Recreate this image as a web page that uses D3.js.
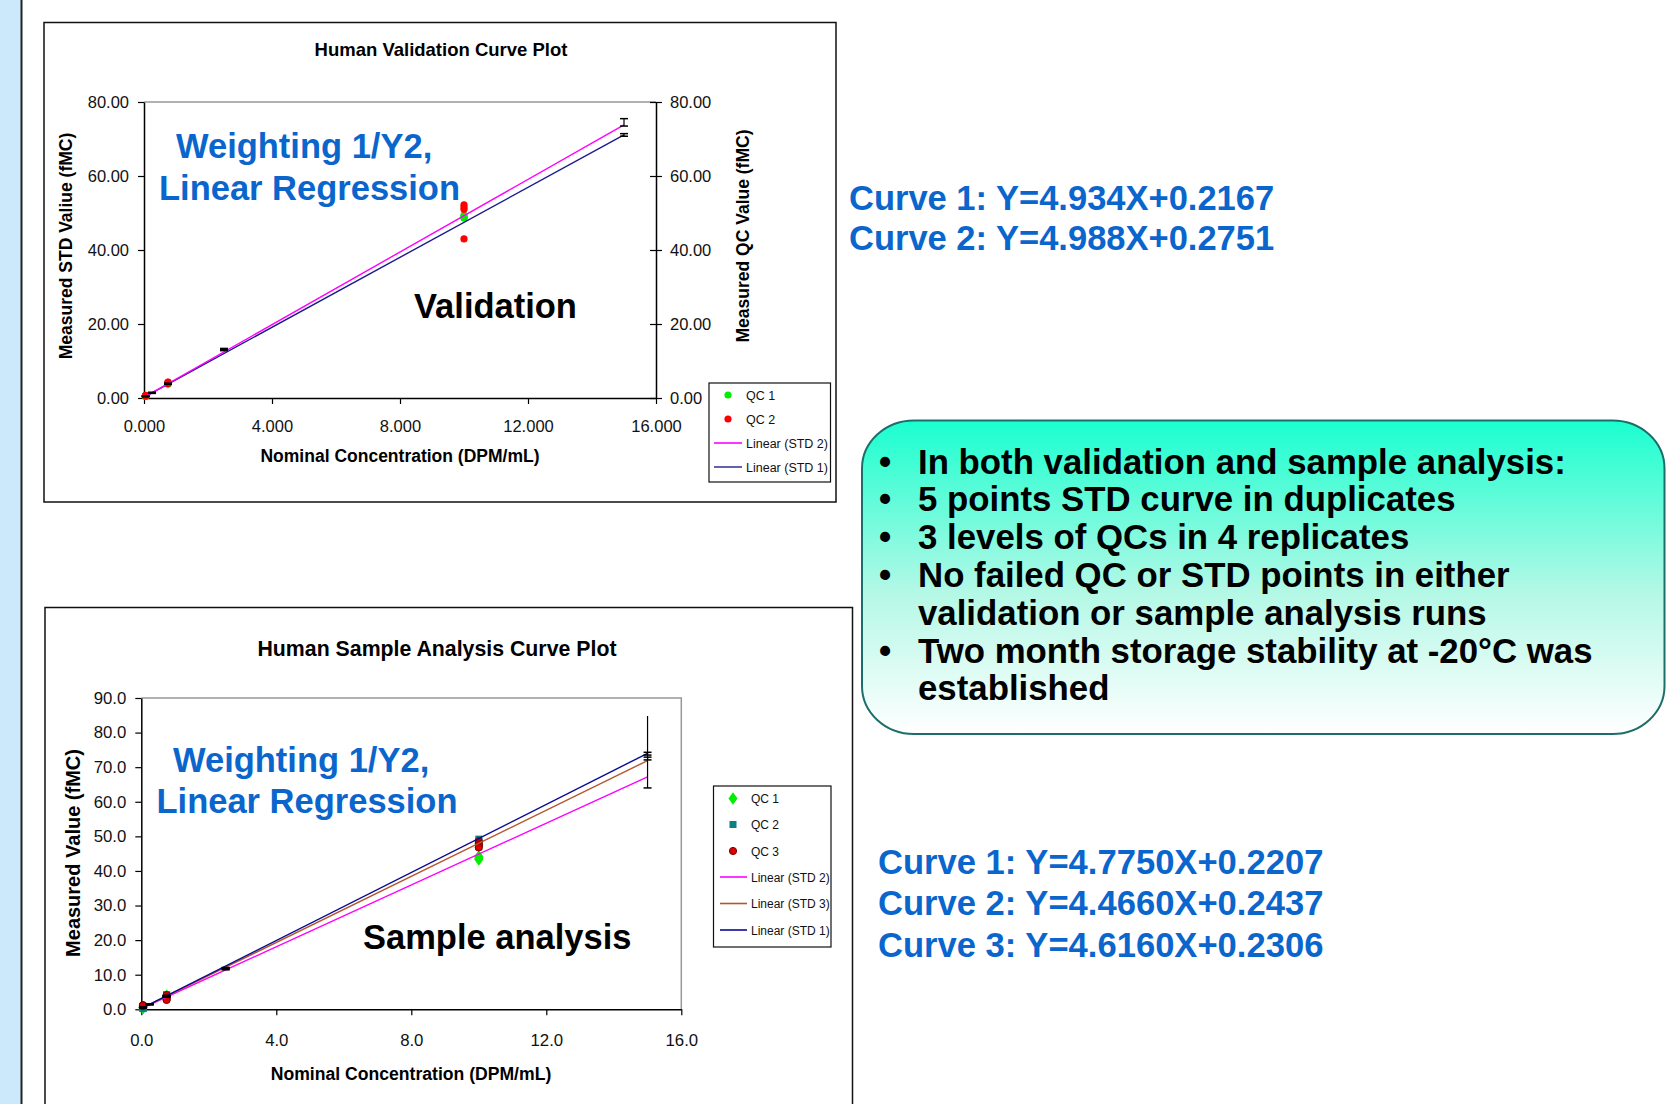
<!DOCTYPE html>
<html><head><meta charset="utf-8">
<script src="https://cdn.jsdelivr.net/npm/d3@7"></script>
<style>
html,body{margin:0;padding:0;background:#fff;}
svg{display:block;font-family:"Liberation Sans",Arial,sans-serif;}
</style></head><body>
<svg id="c" width="1672" height="1104"></svg>
<script>
// ===== Validation chart data =====
const valXTicks = [0, 4, 8, 12, 16];
const valXTickLabels = ["0.000", "4.000", "8.000", "12.000", "16.000"];
const valYTicks = [0, 20, 40, 60, 80];
const valYTickLabels = ["0.00", "20.00", "40.00", "60.00", "80.00"];
const valStdX = [0.05, 0.25, 0.75, 2.5, 15];
const valStd1Y = [0.45, 1.35, 3.8, 13.0, 71.1];
const valStd1Err = [0.1, 0.1, 0.1, 0.2, 0.35];
const valStd2Y = [0.5, 1.45, 3.9, 13.2, 74.5];
const valStd2Err = [0.1, 0.1, 0.1, 0.2, 1.0];
const valQcX = [0.05, 0.05, 0.05, 0.05, 0.75, 0.75, 0.75, 0.75, 10, 10, 10, 10];
const valQc1Y = [0.4, 0.5, 0.55, 0.45, 3.8, 3.9, 4.0, 3.85, 49.0, 48.6, 49.4, 48.8];
const valQc2Y = [0.6, 0.7, 0.55, 0.65, 4.0, 4.3, 3.9, 4.2, 52.2, 51.6, 51.0, 43.0];
const valTrendX = [0.05, 15];
const valTrendStd2 = [0.45, 73.8];
const valTrendStd1 = [0.45, 71.1];
const valLegend = ["QC 1", "QC 2", "Linear (STD 2)", "Linear (STD 1)"];
const valEquations = ["Curve 1: Y=4.934X+0.2167", "Curve 2: Y=4.988X+0.2751"];

// ===== Sample analysis chart data =====
const saXTicks = [0, 4, 8, 12, 16];
const saXTickLabels = ["0.0", "4.0", "8.0", "12.0", "16.0"];
const saYTicks = [0, 10, 20, 30, 40, 50, 60, 70, 80, 90];
const saYTickLabels = ["0.0", "10.0", "20.0", "30.0", "40.0", "50.0", "60.0", "70.0", "80.0", "90.0"];
const saStdX = [0.05, 0.25, 0.75, 2.5, 15];
const saStd1Y = [0.5, 1.5, 3.9, 11.9, 73.9];
const saStd1Err = [0.1, 0.1, 0.1, 0.2, 0.4];
const saStd2Y = [0.5, 1.4, 3.6, 11.6, 74.4];
const saStd2Err = [0.1, 0.1, 0.1, 0.2, 10.4];
const saStd3Y = [0.5, 1.45, 3.8, 11.8, 72.5];
const saStd3Err = [0.1, 0.1, 0.1, 0.2, 0.4];
const saQcX = [0.05, 0.05, 0.05, 0.05, 0.75, 0.75, 0.75, 0.75, 10, 10, 10, 10];
const saQc1Y = [0.5, 0.4, 0.6, 0.5, 3.8, 3.6, 3.9, 3.7, 44.2, 43.6, 43.3, 44.0];
const saQc2Y = [0.3, 0.2, 0.4, 0.3, 4.0, 4.2, 3.8, 4.1, 49.2, 48.5, 47.0, 47.8];
const saQc3Y = [1.2, 0.9, 1.0, 1.1, 4.1, 3.4, 2.9, 2.7, 48.6, 48.0, 47.4, 46.8];
const saTrendX = [0.05, 15];
const saTrendStd2 = [0.45, 67.2];
const saTrendStd3 = [0.45, 71.9];
const saTrendStd1 = [0.45, 74.0];
const saLegend = ["QC 1", "QC 2", "QC 3", "Linear (STD 2)", "Linear (STD 3)", "Linear (STD 1)"];
const saEquations = ["Curve 1: Y=4.7750X+0.2207", "Curve 2: Y=4.4660X+0.2437", "Curve 3: Y=4.6160X+0.2306"];

// ===== Summary box text =====
const bulletLines = [
  {b: true, t: "In both validation and sample analysis:"},
  {b: true, t: "5 points STD curve in duplicates"},
  {b: true, t: "3 levels of QCs in 4 replicates"},
  {b: true, t: "No failed QC or STD points in either"},
  {b: false, t: "validation or sample analysis runs"},
  {b: true, t: "Two month storage stability at -20°C was"},
  {b: false, t: "established"}
];

const svg = d3.select("#c");
const BLUE = "#0a66cc";

// left strip
svg.append("rect").attr("x", 0).attr("y", 0).attr("width", 21).attr("height", 1104).attr("fill", "#cce9fb");
svg.append("line").attr("x1", 21.5).attr("x2", 21.5).attr("y1", 0).attr("y2", 1104).attr("stroke", "#222").attr("stroke-width", 2);

function styleAxis(g, size) {
  g.attr("font-family", null).attr("font-size", null);
  g.selectAll("text").attr("font-size", size).attr("fill", "#111");
  g.selectAll("line").attr("stroke", "#000").attr("stroke-width", 1.2);
  g.select(".domain").attr("stroke", "#000").attr("stroke-width", 1.5);
}

function errorBars(g, x, y, xs, ys, es, topCap) {
  xs.forEach((xv, i) => {
    const cx = x(xv), top = y(ys[i] + es[i]), bot = y(ys[i] - es[i]);
    g.append("line").attr("x1", cx).attr("x2", cx).attr("y1", top).attr("y2", bot).attr("stroke", "#000").attr("stroke-width", 1.2);
    const caps = (topCap === false && es[i] > 5) ? [bot] : [top, bot];
    caps.forEach(yy => g.append("line").attr("x1", cx - 4).attr("x2", cx + 4).attr("y1", yy).attr("y2", yy).attr("stroke", "#000").attr("stroke-width", 1.5));
  });
}

function trend(g, x, y, xs, ys, color) {
  g.append("path").datum(xs.map((d, i) => [d, ys[i]]))
    .attr("d", d3.line().x(d => x(d[0])).y(d => y(d[1])))
    .attr("fill", "none").attr("stroke", color).attr("stroke-width", 1.4);
}

// ================= Chart 1: Validation =================
(function () {
  const g = svg.append("g");
  g.append("rect").attr("x", 44).attr("y", 22.5).attr("width", 792).attr("height", 479.5).attr("fill", "#fff").attr("stroke", "#111").attr("stroke-width", 1.5);
  const x = d3.scaleLinear().domain([0, 16]).range([144, 656]);
  const y = d3.scaleLinear().domain([0, 80]).range([398, 102]);
  g.append("text").attr("x", 441).attr("y", 56).attr("text-anchor", "middle").attr("font-weight", "bold").attr("font-size", 18.5).text("Human Validation Curve Plot");
  g.append("line").attr("x1", x(0)).attr("x2", x(16)).attr("y1", y(80)).attr("y2", y(80)).attr("stroke", "#999").attr("stroke-width", 1.5);
  const ax = g.append("g").attr("transform", `translate(0,${y(0)})`)
    .call(d3.axisBottom(x).tickValues(valXTicks).tickFormat((d, i) => valXTickLabels[i]).tickSizeInner(6).tickSizeOuter(0));
  styleAxis(ax, 16.5);
  ax.selectAll("text").attr("y", 34).attr("dy", 0);
  const ay = g.append("g").attr("transform", `translate(${x(0)},0)`)
    .call(d3.axisLeft(y).tickValues(valYTicks).tickFormat((d, i) => valYTickLabels[i]).tickSizeInner(6).tickSizeOuter(0).tickPadding(9));
  styleAxis(ay, 16.5);
  const ar = g.append("g").attr("transform", `translate(${x(16)},0)`)
    .call(d3.axisRight(y).tickValues(valYTicks).tickFormat((d, i) => valYTickLabels[i]).tickSizeInner(6).tickSizeOuter(0).tickPadding(8));
  styleAxis(ar, 16.5);
  ar.selectAll(".tick").append("line").attr("x1", -6).attr("x2", 0).attr("stroke", "#000").attr("stroke-width", 1.2);
  g.append("text").attr("transform", `translate(72,246) rotate(-90)`).attr("text-anchor", "middle").attr("font-weight", "bold").attr("font-size", 17.5).text("Measured STD Valiue (fMC)");
  g.append("text").attr("transform", `translate(749,236) rotate(-90)`).attr("text-anchor", "middle").attr("font-weight", "bold").attr("font-size", 17.5).text("Measured QC Value (fMC)");
  g.append("text").attr("x", 400).attr("y", 462).attr("text-anchor", "middle").attr("font-weight", "bold").attr("font-size", 17.5).text("Nominal Concentration (DPM/mL)");
  g.append("text").attr("x", 176).attr("y", 158).attr("font-weight", "bold").attr("font-size", 34.5).attr("fill", BLUE).text("Weighting 1/Y2,");
  g.append("text").attr("x", 159).attr("y", 200).attr("font-weight", "bold").attr("font-size", 34.5).attr("fill", BLUE).text("Linear Regression");
  g.append("text").attr("x", 414).attr("y", 318).attr("font-weight", "bold").attr("font-size", 34.5).attr("fill", "#000").text("Validation");
  const pts = g.append("g");
  valQcX.forEach((xv, i) => pts.append("circle").attr("cx", x(xv)).attr("cy", y(valQc1Y[i])).attr("r", 3.6).attr("fill", "#00ee00"));
  valQcX.forEach((xv, i) => pts.append("circle").attr("cx", x(xv)).attr("cy", y(valQc2Y[i])).attr("r", 3.6).attr("fill", "#ff0000"));
  trend(g, x, y, valTrendX, valTrendStd1, "#1a1a8c");
  trend(g, x, y, valTrendX, valTrendStd2, "#ff00ff");
  errorBars(g, x, y, valStdX, valStd1Y, valStd1Err);
  errorBars(g, x, y, valStdX, valStd2Y, valStd2Err);
  const lg = g.append("g");
  lg.append("rect").attr("x", 709).attr("y", 383).attr("width", 121.5).attr("height", 99).attr("fill", "#fff").attr("stroke", "#111").attr("stroke-width", 1.2);
  const rows = [395, 419, 443, 467];
  const kinds = [{t: "c", c: "#00ee00"}, {t: "c", c: "#ff0000"}, {t: "l", c: "#ff00ff"}, {t: "l", c: "#3a3a9a"}];
  valLegend.forEach((lab, i) => {
    const k = kinds[i];
    if (k.t === "c") lg.append("circle").attr("cx", 728).attr("cy", rows[i]).attr("r", 3.6).attr("fill", k.c);
    else lg.append("line").attr("x1", 714).attr("x2", 742).attr("y1", rows[i]).attr("y2", rows[i]).attr("stroke", k.c).attr("stroke-width", 1.6);
    lg.append("text").attr("x", 746).attr("y", rows[i] + 4.5).attr("font-size", 12.5).attr("fill", "#111").text(lab);
  });
  valEquations.forEach((t, i) => svg.append("text").attr("x", 849).attr("y", 210 + i * 40.3).attr("font-weight", "bold").attr("font-size", 34.5).attr("fill", BLUE).text(t));
})();

// ================= Chart 2: Sample analysis =================
(function () {
  const g = svg.append("g");
  g.append("rect").attr("x", 45).attr("y", 607.5).attr("width", 807.5).attr("height", 510).attr("fill", "#fff").attr("stroke", "#111").attr("stroke-width", 1.5);
  const x = d3.scaleLinear().domain([0, 16]).range([141.3, 681.3]);
  const y = d3.scaleLinear().domain([0, 90]).range([1009.3, 698]);
  g.append("text").attr("x", 437).attr("y", 656).attr("text-anchor", "middle").attr("font-weight", "bold").attr("font-size", 21.3).text("Human Sample Analysis Curve Plot");
  g.append("path").attr("d", `M${x(0)},${y(90)}H${x(16)}V${y(0)}`).attr("fill", "none").attr("stroke", "#999").attr("stroke-width", 1.5);
  const ax = g.append("g").attr("transform", `translate(0,${y(0)})`)
    .call(d3.axisBottom(x).tickValues(saXTicks).tickFormat((d, i) => saXTickLabels[i]).tickSizeInner(6).tickSizeOuter(0));
  styleAxis(ax, 16.8);
  ax.selectAll("text").attr("y", 37).attr("dy", 0);
  const ay = g.append("g").attr("transform", `translate(${x(0)},0)`)
    .call(d3.axisLeft(y).tickValues(saYTicks).tickFormat((d, i) => saYTickLabels[i]).tickSizeInner(6).tickSizeOuter(0).tickPadding(9));
  styleAxis(ay, 16.8);
  g.append("text").attr("transform", `translate(80,853) rotate(-90)`).attr("text-anchor", "middle").attr("font-weight", "bold").attr("font-size", 20).text("Measured Value (fMC)");
  g.append("text").attr("x", 411).attr("y", 1080).attr("text-anchor", "middle").attr("font-weight", "bold").attr("font-size", 17.6).text("Nominal Concentration (DPM/mL)");
  g.append("text").attr("x", 173).attr("y", 772).attr("font-weight", "bold").attr("font-size", 34.5).attr("fill", BLUE).text("Weighting 1/Y2,");
  g.append("text").attr("x", 156.5).attr("y", 812.5).attr("font-weight", "bold").attr("font-size", 34.5).attr("fill", BLUE).text("Linear Regression");
  g.append("text").attr("x", 363).attr("y", 949).attr("font-weight", "bold").attr("font-size", 34.5).attr("fill", "#000").text("Sample analysis");
  const diamond = d3.symbol().type(d3.symbolDiamond).size(45);
  saQcX.forEach((xv, i) => g.append("path").attr("d", diamond).attr("transform", `translate(${x(xv)},${y(saQc1Y[i])}) scale(1.25,1)`).attr("fill", "#00ee00"));
  saQcX.forEach((xv, i) => g.append("rect").attr("x", x(xv) - 3.5).attr("y", y(saQc2Y[i]) - 3.5).attr("width", 7).attr("height", 7).attr("fill", "#0b8080"));
  saQcX.forEach((xv, i) => g.append("circle").attr("cx", x(xv)).attr("cy", y(saQc3Y[i])).attr("r", 3.6).attr("fill", "#dd0000").attr("stroke", "#7a0000").attr("stroke-width", 1));
  trend(g, x, y, saTrendX, saTrendStd2, "#ff00ff");
  trend(g, x, y, saTrendX, saTrendStd3, "#b5562e");
  trend(g, x, y, saTrendX, saTrendStd1, "#0a0a90");
  errorBars(g, x, y, saStdX, saStd1Y, saStd1Err);
  errorBars(g, x, y, saStdX, saStd2Y, saStd2Err, false);
  errorBars(g, x, y, saStdX, saStd3Y, saStd3Err);
  const lg = g.append("g");
  lg.append("rect").attr("x", 713.5).attr("y", 786).attr("width", 117.5).attr("height", 161).attr("fill", "#fff").attr("stroke", "#111").attr("stroke-width", 1.2);
  const rows = [798.5, 824.5, 851, 877, 903.5, 930];
  const kinds = [{t: "d", c: "#00ee00"}, {t: "s", c: "#0b8080"}, {t: "c", c: "#dd0000"}, {t: "l", c: "#ff00ff"}, {t: "l", c: "#b5562e"}, {t: "l", c: "#0a0a90"}];
  saLegend.forEach((lab, i) => {
    const k = kinds[i], cy = rows[i];
    if (k.t === "d") lg.append("path").attr("d", diamond).attr("transform", `translate(733,${cy}) scale(1.25,1)`).attr("fill", k.c);
    else if (k.t === "s") lg.append("rect").attr("x", 729.5).attr("y", cy - 3.5).attr("width", 7).attr("height", 7).attr("fill", k.c);
    else if (k.t === "c") lg.append("circle").attr("cx", 733).attr("cy", cy).attr("r", 3.6).attr("fill", k.c).attr("stroke", "#7a0000");
    else lg.append("line").attr("x1", 720).attr("x2", 747).attr("y1", cy).attr("y2", cy).attr("stroke", k.c).attr("stroke-width", 1.6);
    lg.append("text").attr("x", 751).attr("y", cy + 4.5).attr("font-size", 12).attr("fill", "#111").text(lab);
  });
  saEquations.forEach((t, i) => svg.append("text").attr("x", 878).attr("y", 873.5 + i * 41.7).attr("font-weight", "bold").attr("font-size", 34.6).attr("fill", BLUE).text(t));
})();

// ================= Summary box =================
(function () {
  const defs = svg.append("defs");
  const grad = defs.append("linearGradient").attr("id", "gbox").attr("x1", 0).attr("y1", 0).attr("x2", 0).attr("y2", 1);
  grad.append("stop").attr("offset", "0%").attr("stop-color", "#1affcf");
  grad.append("stop").attr("offset", "55%").attr("stop-color", "#b4f8e6");
  grad.append("stop").attr("offset", "100%").attr("stop-color", "#ffffff");
  svg.append("rect").attr("x", 862).attr("y", 420.5).attr("width", 802.5).attr("height", 313.5).attr("rx", 52).attr("ry", 48)
    .attr("fill", "url(#gbox)").attr("stroke", "#1d6e6a").attr("stroke-width", 2);
  bulletLines.forEach((d, i) => {
    const yy = 473.5 + i * 37.8;
    if (d.b) svg.append("text").attr("x", 879).attr("y", yy).attr("font-weight", "bold").attr("font-size", 34.8).attr("fill", "#000").text("•");
    svg.append("text").attr("x", 918).attr("y", yy).attr("font-weight", "bold").attr("font-size", 34.8).attr("fill", "#000").text(d.t);
  });
})();
</script>
</body></html>
